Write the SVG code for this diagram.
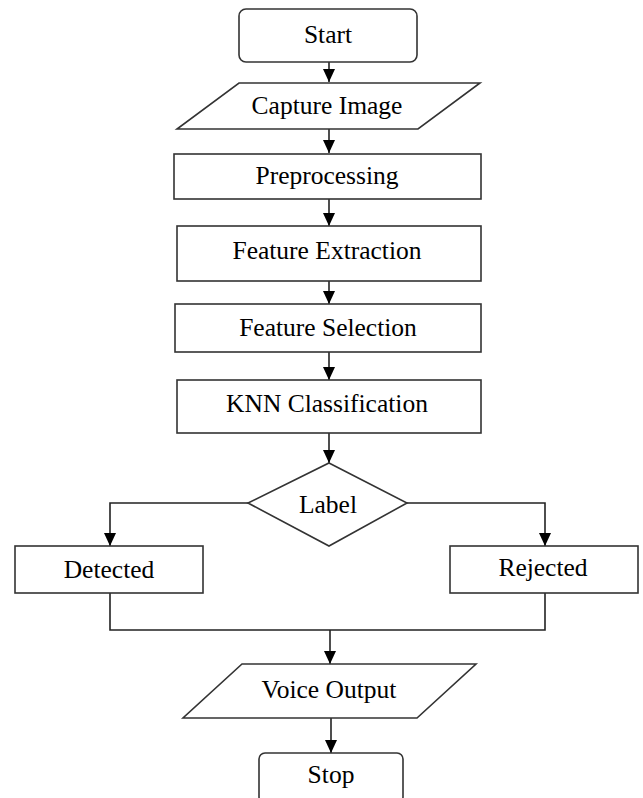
<svg xmlns="http://www.w3.org/2000/svg" width="643" height="798" viewBox="0 0 643 798">
<defs>
<style>
.s{fill:#fff;stroke:#333;stroke-width:1.6}
.c{fill:none;stroke:#222;stroke-width:1.6}
.t{font-family:"Liberation Serif","Times New Roman",serif;font-size:25.5px;fill:#000;text-anchor:middle}
</style>
<marker id="ah" markerUnits="userSpaceOnUse" markerWidth="14" markerHeight="12" refX="13" refY="6" orient="auto">
<path d="M0,0 L13,6 L0,12 z" fill="#000"/>
</marker>
</defs>
<rect width="643" height="798" fill="#fff"/>
<g id="connectors">
<line class="c" x1="329" y1="62" x2="329" y2="82" marker-end="url(#ah)"/>
<line class="c" x1="329" y1="129" x2="329" y2="153" marker-end="url(#ah)"/>
<line class="c" x1="329" y1="199" x2="329" y2="226" marker-end="url(#ah)"/>
<line class="c" x1="329" y1="281" x2="329" y2="304" marker-end="url(#ah)"/>
<line class="c" x1="329" y1="352" x2="329" y2="380" marker-end="url(#ah)"/>
<line class="c" x1="329" y1="433" x2="329" y2="463" marker-end="url(#ah)"/>
<polyline class="c" points="248,503 110,503 110,546" marker-end="url(#ah)"/>
<polyline class="c" points="407,503 545,503 545,546" marker-end="url(#ah)"/>
<polyline class="c" points="110,593 110,630 545,630 545,593"/>
<line class="c" x1="330" y1="630" x2="330" y2="664" marker-end="url(#ah)"/>
<line class="c" x1="331" y1="718" x2="331" y2="753" marker-end="url(#ah)"/>
</g>
<g id="start">
<rect class="s" x="239" y="9" width="178" height="53" rx="7"/>
<text class="t" x="328" y="43">Start</text>
</g>
<g id="capture">
<polygon class="s" points="239,83 480,83 418,129 177,129"/>
<text class="t" x="327" y="114">Capture Image</text>
</g>
<g id="preprocessing">
<rect class="s" x="174" y="154" width="307" height="45"/>
<text class="t" x="327" y="184">Preprocessing</text>
</g>
<g id="extraction">
<rect class="s" x="177" y="226" width="304" height="55"/>
<text class="t" x="327" y="259">Feature Extraction</text>
</g>
<g id="selection">
<rect class="s" x="175" y="304" width="306" height="48"/>
<text class="t" x="328" y="336">Feature Selection</text>
</g>
<g id="knn">
<rect class="s" x="177" y="380" width="304" height="53"/>
<text class="t" x="327" y="412">KNN Classification</text>
</g>
<g id="label">
<polygon class="s" points="329,463 407,503 329,546 248,503"/>
<text class="t" x="328" y="513">Label</text>
</g>
<g id="detected">
<rect class="s" x="15" y="546" width="188" height="47"/>
<text class="t" x="109" y="578">Detected</text>
</g>
<g id="rejected">
<rect class="s" x="450" y="546" width="188" height="47"/>
<text class="t" x="543" y="576">Rejected</text>
</g>
<g id="voice">
<polygon class="s" points="242,664 476,664 417,718 183,718"/>
<text class="t" x="329" y="698">Voice Output</text>
</g>
<g id="stop">
<rect class="s" x="259" y="753" width="144" height="50" rx="6"/>
<text class="t" x="331" y="783">Stop</text>
</g>
</svg>
